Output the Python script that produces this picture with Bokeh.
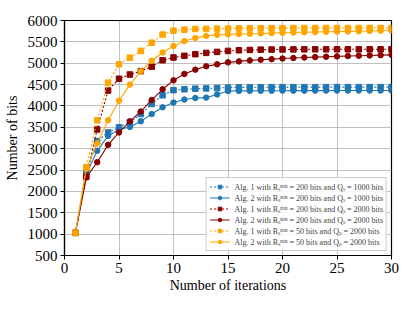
from bokeh.plotting import figure
from bokeh.models import FixedTicker, Range1d, Legend
from bokeh.embed import file_html
from bokeh.resources import INLINE

iterations = list(range(1, 31))

alg1_r200_q1000 = [1030, 2450, 3180, 3380, 3500, 3620, 3810, 4045, 4250, 4370,
                   4390, 4405, 4410, 4420, 4430, 4435, 4435, 4438, 4440, 4440,
                   4440, 4440, 4440, 4440, 4440, 4440, 4440, 4440, 4440, 4440]
alg2_r200_q1000 = [1030, 2400, 2950, 3300, 3450, 3510, 3640, 3810, 3970, 4080,
                   4150, 4185, 4195, 4270, 4350, 4352, 4354, 4355, 4356, 4357,
                   4358, 4358, 4359, 4359, 4360, 4360, 4360, 4360, 4360, 4360]
alg1_r200_q2000 = [1030, 2340, 3450, 4360, 4637, 4736, 4815, 4920, 5070, 5135,
                   5173, 5211, 5242, 5265, 5288, 5303, 5311, 5318, 5320, 5322,
                   5324, 5325, 5326, 5326, 5326, 5326, 5326, 5326, 5326, 5326]
alg2_r200_q2000 = [1030, 2330, 2683, 3090, 3380, 3640, 3870, 4140, 4390, 4600,
                   4750, 4850, 4928, 4974, 5020, 5043, 5066, 5081, 5096, 5110,
                   5122, 5133, 5143, 5152, 5160, 5168, 5175, 5182, 5189, 5196]
alg1_r50_q2000 = [1030, 2565, 3665, 4545, 4975, 5130, 5288, 5480, 5671, 5763,
                  5786, 5800, 5805, 5809, 5812, 5815, 5817, 5818, 5820, 5821,
                  5822, 5823, 5824, 5825, 5825, 5825, 5825, 5825, 5825, 5825]
alg2_r50_q2000 = [1030, 2530, 3120, 3665, 4124, 4500, 4810, 5058, 5250, 5403,
                  5518, 5590, 5640, 5665, 5675, 5683, 5690, 5697, 5705, 5712,
                  5718, 5724, 5730, 5735, 5740, 5745, 5750, 5755, 5760, 5765]

labels = [
    "Alg. 1 with R\u209b\u1d50\u2071\u207f = 200 bits and Q\u209b = 1000 bits",
    "Alg. 2 with R\u209b\u1d50\u2071\u207f = 200 bits and Q\u209b = 1000 bits",
    "Alg. 1 with R\u209b\u1d50\u2071\u207f = 200 bits and Q\u209b = 2000 bits",
    "Alg. 2 with R\u209b\u1d50\u2071\u207f = 200 bits and Q\u209b = 2000 bits",
    "Alg. 1 with R\u209b\u1d50\u2071\u207f = 50 bits and Q\u1d64 = 2000 bits",
    "Alg. 2 with R\u209b\u1d50\u2071\u207f = 50 bits and Q\u1d64 = 2000 bits",
]
series = [alg1_r200_q1000, alg2_r200_q1000, alg1_r200_q2000,
          alg2_r200_q2000, alg1_r50_q2000, alg2_r50_q2000]
colors = ["#1f77b4", "#1f77b4", "#8b0000", "#8b0000", "#ffa500", "#ffa500"]

FONT = "Liberation Serif"

p = figure(width=399, height=295, output_backend="svg", toolbar_location=None,
           x_range=Range1d(0, 30), y_range=Range1d(500, 6000),
           min_border_left=64, min_border_right=8, min_border_top=20,
           min_border_bottom=35)
p.background_fill_color = "white"
p.border_fill_color = "white"
p.outline_line_color = "black"
p.outline_line_width = 1.2

items = []
for i, (vals, col, lab) in enumerate(zip(series, colors, labels)):
    if i % 2 == 0:
        r1 = p.line(iterations, vals, line_color=col, line_width=1.1, line_dash="2 2")
        r2 = p.scatter(iterations, vals, marker="square", size=5.5, fill_color=col,
                       line_color=col)
    else:
        r1 = p.line(iterations, vals, line_color=col, line_width=1.1)
        r2 = p.scatter(iterations, vals, marker="circle", size=5.5, fill_color=col,
                       line_color=col)
    items.append((lab, [r1, r2]))

legend = Legend(items=items, location="bottom_right")
legend.label_text_font = FONT
legend.label_text_font_size = "8px"
legend.label_height = 9
legend.glyph_height = 9
legend.glyph_width = 20
legend.spacing = 0
legend.padding = 3
legend.margin = 4
legend.label_standoff = 5
legend.border_line_color = "#cccccc"
legend.border_line_alpha = 1
legend.background_fill_alpha = 0.85
p.add_layout(legend, "center")

p.xaxis.ticker = FixedTicker(ticks=[0, 5, 10, 15, 20, 25, 30])
p.yaxis.ticker = FixedTicker(ticks=list(range(500, 6001, 500)))
for ax in (p.xaxis[0], p.yaxis[0]):
    ax.major_label_text_font = FONT
    ax.major_label_text_font_size = "15px"
    ax.major_label_text_color = "black"
    ax.axis_label_text_font = FONT
    ax.axis_label_text_font_size = "14px"
    ax.axis_label_text_font_style = "normal"
    ax.axis_label_text_color = "black"
    ax.axis_line_color = "black"
    ax.axis_line_width = 1.2
    ax.major_tick_line_color = "black"
    ax.major_tick_out = 4
    ax.major_tick_in = 0
    ax.minor_tick_line_color = None
    ax.major_label_standoff = 3
p.xaxis.axis_label = "Number of iterations"
p.yaxis.axis_label = "Number of bits"
p.xaxis.axis_label_standoff = 2
p.yaxis.axis_label_standoff = 5

p.xgrid.grid_line_color = "#b0b0b0"
p.ygrid.grid_line_color = "#b0b0b0"
p.xgrid.grid_line_alpha = 0.8
p.ygrid.grid_line_alpha = 0.8
p.xgrid.grid_line_width = 1.0
p.ygrid.grid_line_width = 1.0

open("out.html", "w").write(file_html(p, INLINE))
